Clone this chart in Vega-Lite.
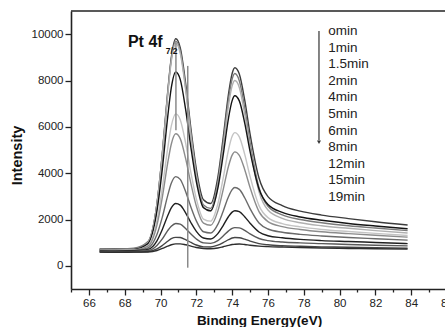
{
  "$schema": "https://vega.github.io/schema/vega-lite/v6.json",
  "width": 374,
  "height": 278,
  "autosize": "none",
  "padding": {"left": 71, "top": 11, "right": 0, "bottom": 38},
  "config": {"view": {"stroke": null}, "font": "Liberation Sans", "axis": {"labelOverlap": false}, "axisX": {"labelOverlap": false}},
  "resolve": {"axis": {"x": "independent"}},
  "layer": [
    {
      "data": {"values": [
        {"t":"0min","x":66.6,"y":720},{"t":"0min","x":67.5,"y":740},{"t":"0min","x":68.5,"y":720},{"t":"0min","x":69.3,"y":1030},{"t":"0min","x":69.8,"y":2680},{"t":"0min","x":70.1,"y":4840},{"t":"0min","x":70.4,"y":7500},{"t":"0min","x":70.6,"y":8980},{"t":"0min","x":70.85,"y":9800},{"t":"0min","x":71.1,"y":9420},{"t":"0min","x":71.4,"y":7890},{"t":"0min","x":71.7,"y":5900},{"t":"0min","x":72.0,"y":4180},{"t":"0min","x":72.4,"y":2850},{"t":"0min","x":72.8,"y":2690},{"t":"0min","x":73.2,"y":3820},{"t":"0min","x":73.5,"y":5540},{"t":"0min","x":73.8,"y":7430},{"t":"0min","x":74.0,"y":8300},{"t":"0min","x":74.15,"y":8550},{"t":"0min","x":74.4,"y":8280},{"t":"0min","x":74.7,"y":7160},{"t":"0min","x":75.0,"y":5700},{"t":"0min","x":75.5,"y":3790},{"t":"0min","x":76.0,"y":2990},{"t":"0min","x":76.8,"y":2600},{"t":"0min","x":77.8,"y":2360},{"t":"0min","x":79.0,"y":2190},{"t":"0min","x":80.5,"y":2040},{"t":"0min","x":82.0,"y":1900},{"t":"0min","x":83.8,"y":1760},
        {"t":"1min","x":66.6,"y":740},{"t":"1min","x":67.5,"y":720},{"t":"1min","x":68.5,"y":760},{"t":"1min","x":69.3,"y":1050},{"t":"1min","x":69.8,"y":2680},{"t":"1min","x":70.1,"y":4820},{"t":"1min","x":70.4,"y":7450},{"t":"1min","x":70.6,"y":8910},{"t":"1min","x":70.85,"y":9700},{"t":"1min","x":71.1,"y":9290},{"t":"1min","x":71.4,"y":7720},{"t":"1min","x":71.7,"y":5710},{"t":"1min","x":72.0,"y":3980},{"t":"1min","x":72.4,"y":2630},{"t":"1min","x":72.8,"y":2480},{"t":"1min","x":73.2,"y":3610},{"t":"1min","x":73.5,"y":5320},{"t":"1min","x":73.8,"y":7210},{"t":"1min","x":74.0,"y":8060},{"t":"1min","x":74.15,"y":8300},{"t":"1min","x":74.4,"y":7990},{"t":"1min","x":74.7,"y":6830},{"t":"1min","x":75.0,"y":5330},{"t":"1min","x":75.5,"y":3380},{"t":"1min","x":76.0,"y":2570},{"t":"1min","x":76.8,"y":2200},{"t":"1min","x":77.8,"y":2000},{"t":"1min","x":79.0,"y":1860},{"t":"1min","x":80.5,"y":1730},{"t":"1min","x":82.0,"y":1630},{"t":"1min","x":83.8,"y":1520},
        {"t":"1.5min","x":66.6,"y":700},{"t":"1.5min","x":67.5,"y":710},{"t":"1.5min","x":68.5,"y":690},{"t":"1.5min","x":69.3,"y":1010},{"t":"1.5min","x":69.8,"y":2630},{"t":"1.5min","x":70.1,"y":4750},{"t":"1.5min","x":70.4,"y":7360},{"t":"1.5min","x":70.6,"y":8820},{"t":"1.5min","x":70.85,"y":9600},{"t":"1.5min","x":71.1,"y":9180},{"t":"1.5min","x":71.4,"y":7620},{"t":"1.5min","x":71.7,"y":5610},{"t":"1.5min","x":72.0,"y":3880},{"t":"1.5min","x":72.4,"y":2530},{"t":"1.5min","x":72.8,"y":2360},{"t":"1.5min","x":73.2,"y":3460},{"t":"1.5min","x":73.5,"y":5120},{"t":"1.5min","x":73.8,"y":6940},{"t":"1.5min","x":74.0,"y":7770},{"t":"1.5min","x":74.15,"y":8000},{"t":"1.5min","x":74.4,"y":7700},{"t":"1.5min","x":74.7,"y":6560},{"t":"1.5min","x":75.0,"y":5100},{"t":"1.5min","x":75.5,"y":3200},{"t":"1.5min","x":76.0,"y":2410},{"t":"1.5min","x":76.8,"y":2050},{"t":"1.5min","x":77.8,"y":1860},{"t":"1.5min","x":79.0,"y":1730},{"t":"1.5min","x":80.5,"y":1620},{"t":"1.5min","x":82.0,"y":1520},{"t":"1.5min","x":83.8,"y":1420},
        {"t":"2min","x":66.6,"y":700},{"t":"2min","x":67.5,"y":690},{"t":"2min","x":68.5,"y":700},{"t":"2min","x":69.3,"y":960},{"t":"2min","x":69.8,"y":2360},{"t":"2min","x":70.1,"y":4180},{"t":"2min","x":70.4,"y":6420},{"t":"2min","x":70.6,"y":7680},{"t":"2min","x":70.85,"y":8370},{"t":"2min","x":71.1,"y":8050},{"t":"2min","x":71.4,"y":6760},{"t":"2min","x":71.7,"y":5090},{"t":"2min","x":72.0,"y":3640},{"t":"2min","x":72.4,"y":2510},{"t":"2min","x":72.8,"y":2380},{"t":"2min","x":73.2,"y":3340},{"t":"2min","x":73.5,"y":4790},{"t":"2min","x":73.8,"y":6390},{"t":"2min","x":74.0,"y":7130},{"t":"2min","x":74.15,"y":7340},{"t":"2min","x":74.4,"y":7120},{"t":"2min","x":74.7,"y":6170},{"t":"2min","x":75.0,"y":4940},{"t":"2min","x":75.5,"y":3320},{"t":"2min","x":76.0,"y":2650},{"t":"2min","x":76.8,"y":2310},{"t":"2min","x":77.8,"y":2110},{"t":"2min","x":79.0,"y":1970},{"t":"2min","x":80.5,"y":1830},{"t":"2min","x":82.0,"y":1720},{"t":"2min","x":83.8,"y":1600},
        {"t":"4min","x":66.6,"y":690},{"t":"4min","x":67.5,"y":700},{"t":"4min","x":68.5,"y":690},{"t":"4min","x":69.3,"y":890},{"t":"4min","x":69.8,"y":1960},{"t":"4min","x":70.1,"y":3360},{"t":"4min","x":70.4,"y":5070},{"t":"4min","x":70.6,"y":6030},{"t":"4min","x":70.85,"y":6560},{"t":"4min","x":71.1,"y":6310},{"t":"4min","x":71.4,"y":5310},{"t":"4min","x":71.7,"y":4010},{"t":"4min","x":72.0,"y":2890},{"t":"4min","x":72.4,"y":2020},{"t":"4min","x":72.8,"y":1930},{"t":"4min","x":73.2,"y":2670},{"t":"4min","x":73.5,"y":3790},{"t":"4min","x":73.8,"y":5020},{"t":"4min","x":74.0,"y":5590},{"t":"4min","x":74.15,"y":5750},{"t":"4min","x":74.4,"y":5570},{"t":"4min","x":74.7,"y":4820},{"t":"4min","x":75.0,"y":3860},{"t":"4min","x":75.5,"y":2600},{"t":"4min","x":76.0,"y":2080},{"t":"4min","x":76.8,"y":1820},{"t":"4min","x":77.8,"y":1680},{"t":"4min","x":79.0,"y":1570},{"t":"4min","x":80.5,"y":1480},{"t":"4min","x":82.0,"y":1400},{"t":"4min","x":83.8,"y":1310},
        {"t":"5min","x":66.6,"y":680},{"t":"5min","x":67.5,"y":660},{"t":"5min","x":68.5,"y":680},{"t":"5min","x":69.3,"y":850},{"t":"5min","x":69.8,"y":1760},{"t":"5min","x":70.1,"y":2960},{"t":"5min","x":70.4,"y":4430},{"t":"5min","x":70.6,"y":5250},{"t":"5min","x":70.85,"y":5700},{"t":"5min","x":71.1,"y":5490},{"t":"5min","x":71.4,"y":4640},{"t":"5min","x":71.7,"y":3540},{"t":"5min","x":72.0,"y":2580},{"t":"5min","x":72.4,"y":1840},{"t":"5min","x":72.8,"y":1750},{"t":"5min","x":73.2,"y":2360},{"t":"5min","x":73.5,"y":3290},{"t":"5min","x":73.8,"y":4310},{"t":"5min","x":74.0,"y":4780},{"t":"5min","x":74.15,"y":4920},{"t":"5min","x":74.4,"y":4770},{"t":"5min","x":74.7,"y":4160},{"t":"5min","x":75.0,"y":3380},{"t":"5min","x":75.5,"y":2340},{"t":"5min","x":76.0,"y":1910},{"t":"5min","x":76.8,"y":1690},{"t":"5min","x":77.8,"y":1570},{"t":"5min","x":79.0,"y":1470},{"t":"5min","x":80.5,"y":1390},{"t":"5min","x":82.0,"y":1320},{"t":"5min","x":83.8,"y":1240},
        {"t":"6min","x":66.6,"y":660},{"t":"6min","x":67.5,"y":670},{"t":"6min","x":68.5,"y":650},{"t":"6min","x":69.3,"y":770},{"t":"6min","x":69.8,"y":1350},{"t":"6min","x":70.1,"y":2100},{"t":"6min","x":70.4,"y":3030},{"t":"6min","x":70.6,"y":3560},{"t":"6min","x":70.85,"y":3850},{"t":"6min","x":71.1,"y":3730},{"t":"6min","x":71.4,"y":3210},{"t":"6min","x":71.7,"y":2530},{"t":"6min","x":72.0,"y":1940},{"t":"6min","x":72.4,"y":1470},{"t":"6min","x":72.8,"y":1420},{"t":"6min","x":73.2,"y":1790},{"t":"6min","x":73.5,"y":2360},{"t":"6min","x":73.8,"y":2990},{"t":"6min","x":74.0,"y":3290},{"t":"6min","x":74.15,"y":3380},{"t":"6min","x":74.4,"y":3300},{"t":"6min","x":74.7,"y":2940},{"t":"6min","x":75.0,"y":2470},{"t":"6min","x":75.5,"y":1850},{"t":"6min","x":76.0,"y":1590},{"t":"6min","x":76.8,"y":1450},{"t":"6min","x":77.8,"y":1360},{"t":"6min","x":79.0,"y":1290},{"t":"6min","x":80.5,"y":1220},{"t":"6min","x":82.0,"y":1170},{"t":"6min","x":83.8,"y":1110},
        {"t":"8min","x":66.6,"y":640},{"t":"8min","x":67.5,"y":630},{"t":"8min","x":68.5,"y":650},{"t":"8min","x":69.3,"y":710},{"t":"8min","x":69.8,"y":1080},{"t":"8min","x":70.1,"y":1570},{"t":"8min","x":70.4,"y":2160},{"t":"8min","x":70.6,"y":2500},{"t":"8min","x":70.85,"y":2690},{"t":"8min","x":71.1,"y":2620},{"t":"8min","x":71.4,"y":2290},{"t":"8min","x":71.7,"y":1860},{"t":"8min","x":72.0,"y":1490},{"t":"8min","x":72.4,"y":1200},{"t":"8min","x":72.8,"y":1160},{"t":"8min","x":73.2,"y":1390},{"t":"8min","x":73.5,"y":1740},{"t":"8min","x":73.8,"y":2130},{"t":"8min","x":74.0,"y":2320},{"t":"8min","x":74.15,"y":2380},{"t":"8min","x":74.4,"y":2340},{"t":"8min","x":74.7,"y":2120},{"t":"8min","x":75.0,"y":1840},{"t":"8min","x":75.5,"y":1460},{"t":"8min","x":76.0,"y":1300},{"t":"8min","x":76.8,"y":1210},{"t":"8min","x":77.8,"y":1140},{"t":"8min","x":79.0,"y":1090},{"t":"8min","x":80.5,"y":1050},{"t":"8min","x":82.0,"y":1010},{"t":"8min","x":83.8,"y":960},
        {"t":"12min","x":66.6,"y":620},{"t":"12min","x":67.5,"y":610},{"t":"12min","x":68.5,"y":620},{"t":"12min","x":69.3,"y":660},{"t":"12min","x":69.8,"y":880},{"t":"12min","x":70.1,"y":1160},{"t":"12min","x":70.4,"y":1520},{"t":"12min","x":70.6,"y":1710},{"t":"12min","x":70.85,"y":1830},{"t":"12min","x":71.1,"y":1800},{"t":"12min","x":71.4,"y":1610},{"t":"12min","x":71.7,"y":1370},{"t":"12min","x":72.0,"y":1160},{"t":"12min","x":72.4,"y":990},{"t":"12min","x":72.8,"y":970},{"t":"12min","x":73.2,"y":1090},{"t":"12min","x":73.5,"y":1290},{"t":"12min","x":73.8,"y":1510},{"t":"12min","x":74.0,"y":1620},{"t":"12min","x":74.15,"y":1650},{"t":"12min","x":74.4,"y":1640},{"t":"12min","x":74.7,"y":1530},{"t":"12min","x":75.0,"y":1380},{"t":"12min","x":75.5,"y":1180},{"t":"12min","x":76.0,"y":1090},{"t":"12min","x":76.8,"y":1030},{"t":"12min","x":77.8,"y":990},{"t":"12min","x":79.0,"y":960},{"t":"12min","x":80.5,"y":920},{"t":"12min","x":82.0,"y":890},{"t":"12min","x":83.8,"y":860},
        {"t":"15min","x":66.6,"y":600},{"t":"15min","x":67.5,"y":610},{"t":"15min","x":68.5,"y":595},{"t":"15min","x":69.3,"y":620},{"t":"15min","x":69.8,"y":730},{"t":"15min","x":70.1,"y":880},{"t":"15min","x":70.4,"y":1060},{"t":"15min","x":70.6,"y":1170},{"t":"15min","x":70.85,"y":1230},{"t":"15min","x":71.1,"y":1220},{"t":"15min","x":71.4,"y":1130},{"t":"15min","x":71.7,"y":1010},{"t":"15min","x":72.0,"y":900},{"t":"15min","x":72.4,"y":820},{"t":"15min","x":72.8,"y":815},{"t":"15min","x":73.2,"y":890},{"t":"15min","x":73.5,"y":1000},{"t":"15min","x":73.8,"y":1130},{"t":"15min","x":74.0,"y":1200},{"t":"15min","x":74.15,"y":1220},{"t":"15min","x":74.4,"y":1210},{"t":"15min","x":74.7,"y":1150},{"t":"15min","x":75.0,"y":1070},{"t":"15min","x":75.5,"y":960},{"t":"15min","x":76.0,"y":910},{"t":"15min","x":76.8,"y":870},{"t":"15min","x":77.8,"y":845},{"t":"15min","x":79.0,"y":820},{"t":"15min","x":80.5,"y":800},{"t":"15min","x":82.0,"y":780},{"t":"15min","x":83.8,"y":760},
        {"t":"19min","x":66.6,"y":590},{"t":"19min","x":67.5,"y":580},{"t":"19min","x":68.5,"y":590},{"t":"19min","x":69.3,"y":600},{"t":"19min","x":69.8,"y":660},{"t":"19min","x":70.1,"y":750},{"t":"19min","x":70.4,"y":850},{"t":"19min","x":70.6,"y":910},{"t":"19min","x":70.85,"y":950},{"t":"19min","x":71.1,"y":950},{"t":"19min","x":71.4,"y":910},{"t":"19min","x":71.7,"y":850},{"t":"19min","x":72.0,"y":790},{"t":"19min","x":72.4,"y":750},{"t":"19min","x":72.8,"y":740},{"t":"19min","x":73.2,"y":770},{"t":"19min","x":73.5,"y":825},{"t":"19min","x":73.8,"y":885},{"t":"19min","x":74.0,"y":920},{"t":"19min","x":74.15,"y":930},{"t":"19min","x":74.4,"y":940},{"t":"19min","x":74.7,"y":920},{"t":"19min","x":75.0,"y":890},{"t":"19min","x":75.5,"y":850},{"t":"19min","x":76.0,"y":830},{"t":"19min","x":76.8,"y":810},{"t":"19min","x":77.8,"y":790},{"t":"19min","x":79.0,"y":770},{"t":"19min","x":80.5,"y":750},{"t":"19min","x":82.0,"y":740},{"t":"19min","x":83.8,"y":720}
      ]},
      "mark": {"type": "line", "interpolate": "monotone", "strokeWidth": 1.4},
      "encoding": {
        "x": {
          "field": "x", "type": "quantitative",
          "scale": {"domain": [65, 86], "range": [0, 376], "nice": false, "zero": false},
          "axis": {
            "orient": "bottom",
            "title": "Binding Energy(eV)",
            "values": [66,68,70,72,74,76,78,80,82,84,86],
            "format": "d",
            "tickSize": 6,
            "grid": false,
            "labelFlush": false,
            "labelOverlap": false,
            "labelBound": false,
            "domainColor": "#222", "domainWidth": 1.6,
            "tickColor": "#222", "tickWidth": 1.3,
            "labelFont": "Liberation Sans", "labelFontSize": 11.5, "labelColor": "#222", "labelPadding": 2,
            "titleFont": "Liberation Sans", "titleFontSize": 13.5, "titleFontWeight": "bold", "titleColor": "#111",
            "titleY": 35.5, "titleBaseline": "alphabetic"
          }
        },
        "y": {
          "field": "y", "type": "quantitative",
          "scale": {"domain": [-1000, 11000], "nice": false, "zero": false},
          "axis": {
            "title": "Intensity",
            "values": [0,1000,2000,3000,4000,5000,6000,7000,8000,9000,10000],
            "format": "d",
            "labelExpr": "datum.value % 2000 === 0 ? datum.label : ''",
            "tickSize": {"condition": {"test": "datum.value % 2000 !== 0", "value": 3}, "value": 6},
            "grid": false,
            "labelOverlap": false,
            "domainColor": "#222", "domainWidth": 1.6,
            "tickColor": "#222", "tickWidth": 1.3,
            "labelFont": "Liberation Sans", "labelFontSize": 11.5, "labelColor": "#222", "labelPadding": 2,
            "titleFont": "Liberation Sans", "titleFontSize": 14.5, "titleFontWeight": "bold", "titleColor": "#111",
            "titleAngle": -90, "titleX": -50, "titleY": 144, "titleAlign": "center", "titleBaseline": "alphabetic"
          }
        },
        "color": {
          "field": "t", "type": "nominal",
          "scale": {
            "domain": ["0min","1min","1.5min","2min","4min","5min","6min","8min","12min","15min","19min"],
            "range": ["#3c3c3c","#7a7a7a","#b0b0b0","#141414","#c4c4c4","#8c8c8c","#6a6a6a","#202020","#5a5a5a","#464646","#2e2e2e"]
          },
          "legend": null
        }
      }
    },
    {
      "data": {"values": [
        {"x": 71.52, "y": -80, "y2": 8630},
        {"x": 70.86, "y": 5850, "y2": 9700}
      ]},
      "mark": {"type": "rule", "color": "#8a8a8a", "strokeWidth": 1.5},
      "encoding": {
        "x": {
          "field": "x", "type": "quantitative",
          "axis": {
            "orient": "bottom",
            "title": null,
            "values": [65,67,69,71,73,75,77,79,81,83,85],
            "labels": false,
            "domain": false,
            "grid": false,
            "tickSize": 3,
            "tickColor": "#222", "tickWidth": 1.3
          }
        },
        "y": {"field": "y", "type": "quantitative"},
        "y2": {"field": "y2"}
      }
    },
    {
      "data": {"values": [{"x": 78.85, "y": 5420, "y2": 10140}]},
      "mark": {"type": "rule", "color": "#333", "strokeWidth": 1.2},
      "encoding": {
        "x": {"field": "x", "type": "quantitative", "axis": null},
        "y": {"field": "y", "type": "quantitative"},
        "y2": {"field": "y2"}
      }
    },
    {
      "data": {"values": [{"x": 78.85, "y": 5330}]},
      "mark": {"type": "point", "shape": "triangle-down", "filled": true, "size": 16, "color": "#333", "opacity": 1},
      "encoding": {
        "x": {"field": "x", "type": "quantitative", "axis": null},
        "y": {"field": "y", "type": "quantitative"}
      }
    },
    {
      "data": {"values": [
        {"label": "omin", "x": 79.37, "y": 10137},
        {"label": "1min", "x": 79.37, "y": 9420},
        {"label": "1.5min", "x": 79.37, "y": 8704},
        {"label": "2min", "x": 79.37, "y": 7987},
        {"label": "4min", "x": 79.37, "y": 7271},
        {"label": "5min", "x": 79.37, "y": 6554},
        {"label": "6min", "x": 79.37, "y": 5838},
        {"label": "8min", "x": 79.37, "y": 5121},
        {"label": "12min", "x": 79.37, "y": 4405},
        {"label": "15min", "x": 79.37, "y": 3688},
        {"label": "19min", "x": 79.37, "y": 2972}
      ]},
      "mark": {"type": "text", "align": "left", "baseline": "middle", "font": "Liberation Sans", "fontSize": 13.5, "color": "#222"},
      "encoding": {
        "x": {"field": "x", "type": "quantitative", "axis": null},
        "y": {"field": "y", "type": "quantitative"},
        "text": {"field": "label"}
      }
    },
    {
      "data": {"values": [
        {"label": "Pt 4f", "x": 68.18, "y": 9446, "size": "big"},
        {"label": "7/2", "x": 70.29, "y": 9144, "size": "small"}
      ]},
      "mark": {"type": "text", "align": "left", "baseline": "alphabetic", "font": "Liberation Sans", "fontWeight": "bold", "color": "#111"},
      "encoding": {
        "x": {"field": "x", "type": "quantitative", "axis": null},
        "y": {"field": "y", "type": "quantitative"},
        "text": {"field": "label"},
        "size": {"field": "size", "type": "nominal", "scale": {"domain": ["big", "small"], "range": [16, 8.5]}, "legend": null}
      }
    },
    {
      "data": {"values": [{"y": 11000}]},
      "mark": {"type": "rule", "color": "#222", "strokeWidth": 1.6},
      "encoding": {
        "y": {"field": "y", "type": "quantitative"}
      }
    }
  ]
}
